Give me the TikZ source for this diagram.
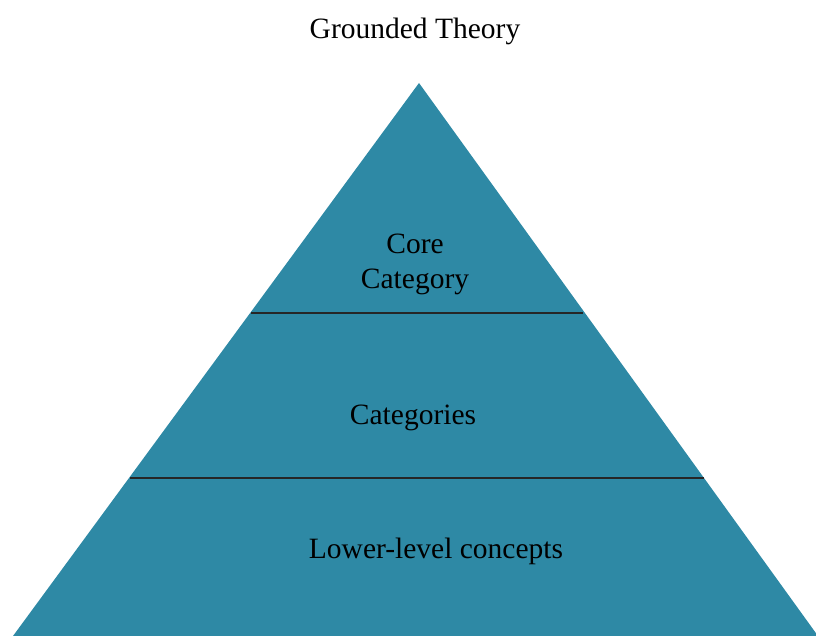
\documentclass[tikz,border=0pt]{standalone}
\usepackage{fontspec}
\setmainfont{Liberation Serif}
\definecolor{teal1}{RGB}{46,137,165}
\tikzset{
  pyr/.style={fill=teal1, draw=none},
  divider/.style={draw=black!85, line width=1.3pt},
  lbl/.style={font=\fontsize{29.5}{35}\selectfont, align=center, inner sep=0pt}
}
\begin{document}
\begin{tikzpicture}[x=1pt,y=-1pt]
\useasboundingbox (0,0) rectangle (816,636);
\coordinate (apex) at (419,83);
\coordinate (bl) at (13,636);
\coordinate (br) at (818,636);
\fill[pyr] (apex) -- (bl) -- (br) -- cycle;
\coordinate (l1a) at (251,313);
\coordinate (l1b) at (583,313);
\coordinate (l2a) at (130,478);
\coordinate (l2b) at (704,478);
\draw[divider] (l1a) -- (l1b);
\draw[divider] (l2a) -- (l2b);
\node[lbl] (title) at (415,31) {Grounded Theory};
\node[lbl] (core) at (415,264) {Core\\Category};
\node[lbl] (cats) at (413,418) {Categories};
\node[lbl] (low) at (436,551) {Lower-level concepts};
\end{tikzpicture}
\end{document}
